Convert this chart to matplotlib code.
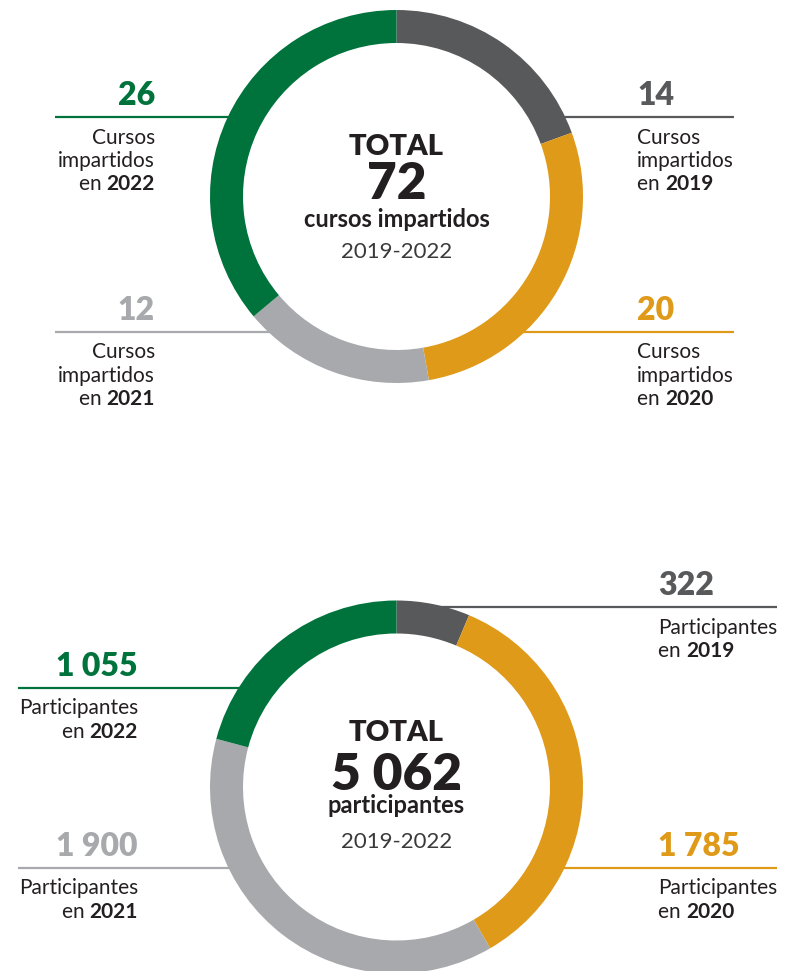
import numpy as np
import matplotlib.pyplot as plt

plt.rcParams['font.family'] = ['Lato', 'DejaVu Sans']

anios = ['2019', '2020', '2021', '2022']
cursos = [14, 20, 12, 26]
participantes = [322, 1785, 1900, 1055]
colores = ['#58595b', '#e09a1a', '#a7a9ac', '#00733d']
negro = '#231f20'

R = 186.5
ANCHO = 33


def miles(v):
    return f"{v:,}".replace(',', ' ')


def etiqueta(ax, x, lado, valor, color, lineas, anio, y_linea, x_borde, x_fin):
    # linea horizontal desde el anillo hasta el extremo de la etiqueta
    ax.plot([x_borde, x_fin], [y_linea, y_linea], color=color, lw=1.6,
            solid_capstyle='butt', zorder=1)
    ha = 'right' if lado == 'izq' else 'left'
    ax.text(x, y_linea - 12.5, miles(valor), ha=ha, va='baseline',
            color=color, fontsize=23, fontweight='heavy')
    yy = y_linea + 26
    for l in lineas:
        ax.text(x, yy, l, ha=ha, va='baseline', color=negro, fontsize=15)
        yy += 23.5
    # ultima linea: "en" normal + anio en negrita
    if lado == 'izq':
        t = ax.text(x, yy, anio, ha='right', va='baseline', color=negro,
                    fontsize=15, fontweight='bold')
        ax.annotate('en ', xy=(0, 0), xycoords=t, ha='right', va='bottom',
                    color=negro, fontsize=15)
    else:
        t = ax.text(x, yy, 'en ', ha='left', va='baseline', color=negro,
                    fontsize=15)
        ax.annotate(anio, xy=(1, 0), xycoords=t, ha='left', va='bottom',
                    color=negro, fontsize=15, fontweight='bold')


def x_anillo(cx, cy, y, lado):
    rm = R - ANCHO / 2
    d = np.sqrt(max(rm**2 - (y - cy)**2, 0))
    return cx - d if lado == 'izq' else cx + d


def dona(ax, valores, cx, cy, pos, lineas, total, texto, y_centro):
    # eje y invertido: counterclock=True se ve en sentido horario
    ax.pie(valores, colors=colores, center=(cx, cy), radius=R,
           startangle=-90, counterclock=True,
           wedgeprops=dict(width=ANCHO, linewidth=0, zorder=3))
    for i in range(4):
        lado, x, y_linea, x_fin = pos[i]
        etiqueta(ax, x, lado, valores[i], colores[i], lineas, anios[i],
                 y_linea, x_anillo(cx, cy, y_linea, lado), x_fin)
    ax.text(cx, y_centro[0], 'TOTAL', ha='center', va='baseline', color=negro,
            fontsize=21, fontweight='heavy')
    ax.text(cx, y_centro[1], miles(total), ha='center', va='baseline',
            color=negro, fontsize=37, fontweight='heavy')
    ax.text(cx, y_centro[2], texto, ha='center', va='baseline', color=negro,
            fontsize=17, fontweight='bold')
    ax.text(cx, y_centro[3], '2019-2022', ha='center', va='baseline',
            color='#3a3a3a', fontsize=16)


fig = plt.figure(figsize=(8, 9.71), dpi=100)
ax = fig.add_axes([0, 0, 1, 1])

# (lado, x del texto, y de la linea, x final de la linea)
pos_cursos = [('der', 637, 117.5, 734), ('der', 637, 332, 734),
              ('izq', 155, 332, 55), ('izq', 155, 117.5, 55)]
dona(ax, cursos, 396.5, 196.5, pos_cursos, ['Cursos', 'impartidos'],
     sum(cursos), 'cursos impartidos', [155, 199, 227, 258])

pos_part = [('der', 658, 607.5, 777), ('der', 658, 868, 777),
            ('izq', 138, 868, 18), ('izq', 138, 688, 18)]
dona(ax, participantes, 396.5, 787, pos_part, ['Participantes'],
     sum(participantes), 'participantes', [741, 790, 813, 848])

ax.set_xlim(0, 800)
ax.set_ylim(971, 0)
ax.set_aspect('equal')
ax.axis('off')

fig.savefig('out.png', dpi=100, facecolor='white')
